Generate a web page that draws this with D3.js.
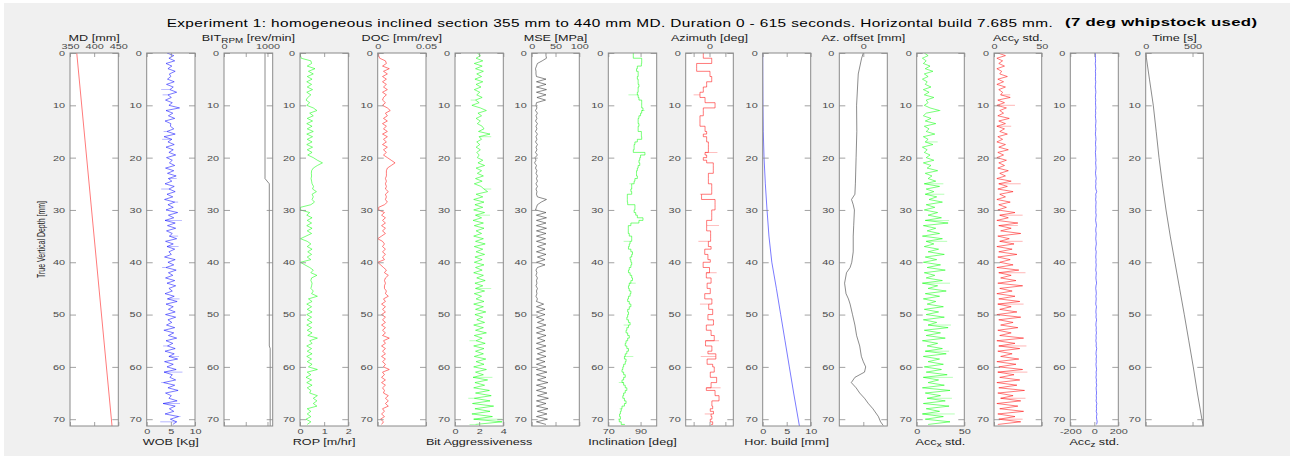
<!DOCTYPE html>
<html>
<head>
<meta charset="utf-8">
<script src="https://cdn.jsdelivr.net/npm/d3@7"></script>
<style>
body { margin: 0; background: #fff; }
svg { display: block; }
text { font-family: "Liberation Sans", Arial, sans-serif; }
</style>
</head>
<body>
<svg id="chart" width="1290" height="456"></svg>
<script>
// depth grid (mm) shared by the sampled logs
const tvd = [0,0.5,1,1.5,2,2.5,3,3.5,4,4.5,5,5.5,6,6.5,7,7.5,8,8.5,9,9.5,
  10,10.5,11,11.5,12,12.5,13,13.5,14,14.5,15,15.5,16,16.5,17,17.5,18,18.5,19,19.5,
  20,20.5,21,21.5,22,22.5,23,23.5,24,24.5,25,25.5,26,26.5,27,27.5,28,28.5,29,29.5,
  30,30.5,31,31.5,32,32.5,33,33.5,34,34.5,35,35.5,36,36.5,37,37.5,38,38.5,39,39.5,
  40,40.5,41,41.5,42,42.5,43,43.5,44,44.5,45,45.5,46,46.5,47,47.5,48,48.5,49,49.5,
  50,50.5,51,51.5,52,52.5,53,53.5,54,54.5,55,55.5,56,56.5,57,57.5,58,58.5,59,59.5,
  60,60.5,61,61.5,62,62.5,63,63.5,64,64.5,65,65.5,66,66.5,67,67.5,68,68.5,69,69.5,
  70,70.5,71];
const yTicks = [0,10,20,30,40,50,60,70];

const mdDepth = [0, 71.3];
const mdVals = [364, 437];

const wob = [4.2,5.6,4.6,5.8,4.0,5.2,4.4,5.9,4.7,5.0,4.3,5.7,4.1,5.5,4.8,6.2,4.4,5.1,3.9,5.3,
  4.6,6.8,4.0,5.4,4.5,5.8,3.8,5.0,4.9,5.6,4.2,5.9,3.6,5.2,4.4,5.7,4.0,5.5,4.6,6.0,
  4.1,5.3,4.7,5.8,3.9,5.6,4.3,6.1,4.5,5.2,3.8,5.7,4.6,5.9,4.2,5.4,3.7,5.8,4.4,5.5,
  4.0,6.4,4.5,5.6,3.8,5.9,4.3,6.0,4.1,5.3,4.7,6.2,3.9,5.5,4.2,5.8,4.6,5.1,3.7,5.9,
  4.4,5.6,4.0,6.1,4.5,5.4,3.9,5.8,4.2,6.0,4.6,5.3,3.8,5.7,4.3,6.3,4.0,5.5,4.5,5.9,
  3.9,6.0,4.4,5.2,4.1,5.8,3.6,5.6,4.5,6.2,4.0,5.4,4.3,5.9,3.8,5.7,4.6,6.4,3.7,5.5,
  4.2,6.1,3.6,5.3,4.8,6.0,3.5,5.8,4.4,6.5,3.9,5.1,4.6,6.3,3.4,5.9,4.7,5.6,3.8,6.6,
  4.9,6.2,5.4];
const wobSpk = [[7,3.0],[8,3.3],[15,3.5],[16.5,3.2],[24,6.2],[26,3.0],[28.5,6.5],[32,7.3],[35,6.5],
  [37,6.6],[41,3.2],[47,6.8],[53,3.5],[56,3.4],[58,6.7],[61,7.4],[63,3.0],[67,6.9],[69.5,7.0],[70.5,2.8]];

const bitDepth = [0, 24, 25, 56, 56.5, 71.3];
const bitRpm = [943, 943, 1042, 1042, 1062, 1062];

const rop = [0.02,0.02,0.05,0.45,0.48,0.30,0.62,0.35,0.55,0.30,0.50,0.28,0.48,0.30,0.52,0.28,0.45,0.32,0.25,0.40,
  0.28,0.55,0.70,0.40,0.55,0.30,0.52,0.28,0.50,0.30,0.55,0.28,0.52,0.30,0.50,0.28,0.52,0.30,0.50,0.32,
  0.55,0.72,0.93,0.72,0.55,0.48,0.47,0.48,0.46,0.48,0.50,0.56,0.52,0.68,0.50,0.55,0.50,0.60,0.45,0.02,
  0.02,0.40,0.28,0.50,0.30,0.48,0.28,0.50,0.30,0.48,0.25,0.02,0.30,0.45,0.30,0.50,0.32,0.48,0.30,0.45,
  0.02,0.20,0.40,0.55,0.45,0.70,0.48,0.45,0.50,0.48,0.45,0.55,0.48,0.72,0.35,0.50,0.28,0.48,0.30,0.50,
  0.28,0.48,0.30,0.50,0.28,0.48,0.30,0.50,0.32,0.72,0.40,0.50,0.28,0.48,0.30,0.50,0.28,0.48,0.30,0.50,
  0.35,0.72,0.30,0.45,0.25,0.48,0.28,0.50,0.30,0.45,0.40,0.72,0.55,0.70,0.55,0.70,0.30,0.45,0.30,0.45,
  0.25,0.45,0.30];

const doc = [0.001,0.001,0.002,0.008,0.009,0.005,0.012,0.006,0.010,0.005,0.009,0.005,0.009,0.006,0.010,0.005,0.009,0.006,0.005,0.008,
  0.005,0.010,0.013,0.008,0.010,0.006,0.010,0.005,0.009,0.006,0.010,0.005,0.010,0.006,0.009,0.005,0.010,0.006,0.009,0.006,
  0.010,0.014,0.018,0.014,0.010,0.009,0.009,0.009,0.008,0.009,0.008,0.009,0.008,0.011,0.008,0.009,0.008,0.010,0.007,0.001,
  0.001,0.007,0.004,0.008,0.005,0.008,0.004,0.008,0.005,0.008,0.004,0.000,0.005,0.007,0.005,0.008,0.005,0.008,0.005,0.007,
  0.000,0.003,0.006,0.009,0.007,0.011,0.008,0.007,0.008,0.007,0.007,0.009,0.008,0.011,0.006,0.008,0.004,0.008,0.005,0.008,
  0.004,0.008,0.005,0.008,0.004,0.008,0.005,0.008,0.005,0.012,0.006,0.008,0.004,0.008,0.005,0.008,0.004,0.008,0.005,0.008,
  0.006,0.012,0.005,0.007,0.004,0.008,0.004,0.008,0.005,0.007,0.006,0.011,0.008,0.011,0.008,0.011,0.005,0.007,0.004,0.007,
  0.003,0.006,0.004];

const bitAgg = [1.85,2.10,1.75,2.30,1.60,2.25,1.70,2.35,1.80,2.20,1.65,2.30,1.75,2.15,1.60,2.05,1.80,2.25,1.70,2.00,
  1.40,2.10,2.60,1.90,2.20,1.75,2.10,1.85,2.25,2.40,1.95,2.90,2.00,2.20,1.80,2.05,1.75,2.10,1.80,2.00,
  1.85,2.30,1.90,2.45,1.75,2.20,1.85,2.35,1.70,2.25,1.60,2.15,2.40,2.70,1.75,2.30,1.55,2.40,1.65,2.30,
  1.55,2.45,1.70,2.20,1.50,2.35,1.60,2.40,1.75,2.20,1.55,2.35,1.70,2.50,1.60,2.30,1.75,2.45,1.65,2.25,
  1.60,2.40,1.70,2.25,1.55,2.35,1.80,2.50,1.65,2.30,1.70,2.45,1.60,2.20,1.75,2.40,1.55,2.35,1.70,2.55,
  1.65,2.30,1.80,2.45,1.55,2.35,1.70,2.60,1.60,2.25,1.75,2.50,1.55,2.40,1.70,2.35,1.60,2.55,1.75,2.40,
  1.55,2.60,1.70,2.35,1.50,2.70,1.65,2.45,1.55,2.85,1.70,3.00,1.60,2.90,1.45,3.20,1.65,2.90,1.40,3.10,
  1.55,3.90,1.70];
const bitAggSpk = [[9,1.3],[16,3.0],[26,3.0],[31,2.9],[45,3.0],[55,1.2],[62,3.1],[66,1.1],[70,3.9],[71,1.2]];

const mse = [30,30,31,22,12,10,8,9,9,10,30,10,30,10,31,10,30,11,29,10,
  9,11,8,12,9,11,8,12,9,11,8,12,9,11,8,12,9,11,8,12,
  7,9,6,10,8,11,9,12,10,12,9,12,9,11,10,12,31,20,12,10,
  8,30,10,31,10,30,10,31,10,30,10,29,10,30,12,28,10,30,12,28,
  10,28,12,9,11,9,12,10,11,9,12,10,11,9,12,10,25,10,28,10,
  28,10,26,12,30,10,28,10,30,12,28,10,30,10,29,12,30,10,28,10,
  30,10,32,10,30,12,34,10,30,10,32,12,35,10,30,10,34,12,32,10,
  33,10,30];

const incl = [85.5,85.5,90.7,90.7,90.5,88.0,87.5,88.5,88.5,88.0,88.5,88.5,89.0,88.5,88.5,88.0,88.5,89.0,90.7,90.7,
  90.7,91.5,90.7,90.0,89.0,88.5,88.5,89.0,88.5,88.5,90.5,90.5,90.7,88.0,86.5,86.0,86.0,85.5,92.7,90.0,
  89.5,89.0,89.5,88.5,88.0,87.5,87.5,88.0,86.5,86.0,84.5,84.5,84.0,84.5,81.8,81.8,81.8,82.0,86.5,86.5,
  86.0,87.0,88.0,91.5,89.0,84.0,82.4,82.4,82.4,83.0,84.5,84.5,83.5,83.0,82.5,84.0,85.0,84.5,83.5,84.0,
  84.5,84.0,83.0,82.5,83.5,84.5,85.0,84.0,83.0,82.5,83.0,84.0,83.5,82.5,82.0,83.0,84.0,83.0,82.0,82.5,
  82.0,81.5,82.5,83.5,82.5,81.5,81.0,82.0,83.0,82.0,81.0,80.5,81.5,82.5,81.5,80.5,80.0,81.0,80.5,79.5,
  79.0,78.5,79.5,80.5,79.5,78.5,79.5,80.5,81.5,80.5,79.5,79.0,80.0,81.0,80.0,78.5,78.0,77.5,77.0,77.5,
  76.8,78.0,80.3];
const inclSpk = [[8,82.5],[11,92.5],[25,83],[36,79.5],[44,87],[52,79.5],[58,85.5],[63,76.5],[68,77],[70,76]];

const azim = [-0.39,-0.39,0.14,0.14,-0.81,-0.81,-0.81,0.03,0.03,0.14,0.14,-0.18,-0.18,-0.39,-0.39,-0.60,-0.60,-0.28,-0.28,0.35,
  0.35,-0.39,-0.39,-0.39,-0.60,-0.60,-0.60,-0.60,-0.28,-0.28,-0.18,-0.39,-0.18,-0.18,-0.07,-0.07,-0.07,-0.07,-0.28,-0.18,
  -0.39,-0.18,0.24,0.24,0.24,0.24,-0.07,-0.07,-0.07,-0.07,0.14,0.14,0.14,0.14,-0.50,-0.50,0.35,0.35,0.35,0.35,
  0.14,0.14,0.14,0.14,-0.18,-0.18,-0.18,-0.18,0.07,0.07,0.07,0.07,-0.07,-0.07,0.10,-0.30,-0.30,-0.10,-0.10,0.05,
  -0.40,-0.40,0.00,0.00,-0.20,-0.20,0.10,0.10,-0.15,-0.15,0.05,0.05,-0.30,-0.30,0.15,0.15,-0.05,-0.05,0.20,0.20,
  -0.10,-0.10,0.25,0.25,-0.20,-0.20,0.10,0.10,0.30,0.30,-0.25,-0.25,0.15,0.15,-0.10,0.40,0.40,-0.15,-0.15,0.20,
  0.30,0.30,0.05,0.05,0.45,0.45,0.10,0.10,-0.20,0.35,0.35,0.60,0.60,0.15,0.15,0.20,0.05,0.25,0.10,0.15,
  0.05,0.20,0.10];
const azimSpk = [[8,-1.0],[19,0.5],[27,-0.6],[33,0.6],[36,-0.7],[42,0.45],[48,-0.6],[55,0.6],[58,-0.55],[64,0.7],[69,-0.3]];

const hbDepth = [0,5,10,15,20,25,30,35,40,45,50,55,60,65,71.3];
const horBuild = [0,0.02,0.05,0.12,0.28,0.55,0.90,1.30,1.90,2.85,3.75,4.65,5.55,6.45,7.65];

const azDepth = [0,1,4,10,15,20,25,27,28,29,30,33,35,38,40,41,42,44,46,47,48,50,52,54,56,58,59,60,61,62,63,64,65,66,67,68,69.5,70.5,71.2];
const azOffset = [0,-0.07,-0.21,-0.28,-0.27,-0.30,-0.33,-0.35,-0.49,-0.42,-0.37,-0.40,-0.42,-0.42,-0.48,-0.55,-0.70,-0.78,-0.72,-0.62,-0.55,-0.45,-0.35,-0.28,-0.15,-0.08,0.0,0.10,0.05,-0.35,-0.50,-0.30,-0.15,0.05,0.21,0.40,0.63,0.72,0.83];

const accx = [8,12,6,10,7,14,9,17,8,12,6,11,9,15,7,13,8,18,10,12,
  8,14,24,10,7,15,9,20,8,13,10,19,7,12,9,17,6,11,8,14,
  10,18,7,15,11,22,9,16,12,20,8,24,10,18,9,21,13,27,10,19,
  8,22,12,26,9,33,7,20,11,24,6,27,10,18,8,23,12,29,9,21,
  7,25,11,30,8,19,10,27,6,22,12,31,9,24,7,20,11,28,8,23,
  10,29,7,21,12,33,8,25,10,30,6,22,11,27,9,31,7,24,12,28,
  8,26,10,32,7,23,12,29,6,35,9,25,11,30,7,34,10,24,6,28,
  9,35,12];
const accxSpk = [[11,25],[17,22],[25,28],[27,29],[32,34],[36,32],[44,35],[52,36],[57,34],[62,38],[66,37],[69,40]];

const accy = [4,12,3,9,5,11,3,8,6,14,4,10,3,12,5,9,7,17,4,11,
  3,13,6,10,4,16,5,12,3,11,6,14,4,9,3,12,5,15,4,10,
  3,13,5,11,4,15,6,12,3,18,5,14,4,20,6,12,3,17,5,13,
  4,22,6,15,3,25,5,18,7,28,4,16,6,21,3,19,5,24,4,17,
  6,20,3,26,5,18,7,23,4,30,6,19,3,22,5,27,4,18,6,24,
  3,28,5,20,7,25,4,18,6,31,3,22,5,27,4,19,7,26,3,23,
  5,30,4,21,6,27,3,24,5,32,4,20,7,28,3,25,6,31,4,22,
  5,28,4];
const accySpk = [[8,17],[10,22],[14,18],[25,28],[31,30],[33,25],[36,30],[42,33],[48,31],[56,34],[61,35],[66,33],[70,30]];

const accz = [8,10,9,11,8,10,12,9,11,10,9,12,10,8,11,13,10,9,12,10,
  11,13,10,12,9,11,14,12,10,13,11,9,12,14,11,10,13,12,9,11,
  12,14,11,13,15,12,10,13,16,12,14,11,13,20,12,14,11,15,13,12,
  14,12,16,13,11,15,18,13,12,16,14,12,15,17,13,11,16,14,12,15,
  13,16,14,12,17,15,13,16,19,14,12,15,17,13,16,14,12,18,15,13,
  16,14,19,15,13,17,15,18,14,16,13,17,15,20,16,14,18,15,17,14,
  16,19,15,17,14,18,16,20,15,17,19,16,18,15,21,17,19,16,22,18,
  20,24,19];

const timeDepth = [0,5,10,15,20,25,30,35,40,45,50,55,60,65,70,71.3];
const timeS = [0,40,81,112,142,178,217,262,312,362,412,460,508,552,600,613];

// ---- layout
const svg = d3.select("#chart");
const SX = 1.45;           // the figure text is stretched horizontally
const yTop = 53, yBot = 426;
const y = d3.scaleLinear().domain([0, 71.3]).range([yTop, yBot]);
const frameCol = "#8a8a8a", tickTxt = "#4a4a4a", labTxt = "#222";

svg.append("rect").attr("x", 4).attr("y", 3).attr("width", 1286).attr("height", 453).attr("fill", "#f0f0f0");

function stretchText(x, yy, parts, size, anchor, fill, weight) {
  const t = svg.append("text")
    .attr("transform", `translate(${x},${yy}) scale(${SX},1)`)
    .attr("text-anchor", anchor)
    .style("fill", fill)
    .style("font-size", size + "px")
    .style("font-weight", weight || "normal");
  let low = false;
  parts.forEach(p => {
    const s = t.append("tspan").text(p.t);
    if (p.sub) { s.attr("dy", 2.6).style("font-size", (size * 0.78) + "px"); low = true; }
    else if (low) { s.attr("dy", -2.6); low = false; }
  });
  return t;
}

const panels = [
  {left: 70, w: 48.3, dom: [350, 450], ticks: [350, 400, 450], fmt: ["350", "400", "450"], pos: "top",
   title: [{t: "MD [mm]"}], color: "#ff0000", depth: mdDepth, vals: mdVals},
  {left: 146.7, w: 48.3, dom: [0, 10], ticks: [0, 5, 10], fmt: ["0", "5", "10"], pos: "bottom",
   title: [{t: "WOB [Kg]"}], color: "#0000ff", depth: tvd, vals: wob, spk: wobSpk},
  {left: 224, w: 48.7, dom: [0, 1120], ticks: [0, 500, 1000], fmt: ["0", "", "1000"], pos: "top",
   title: [{t: "BIT"}, {t: "RPM", sub: true}, {t: " [rev/min]"}], color: "#222", depth: bitDepth, vals: bitRpm},
  {left: 300, w: 48.3, dom: [0, 2], ticks: [0, 1, 2], fmt: ["0", "1", "2"], pos: "bottom",
   title: [{t: "ROP [m/hr]"}], color: "#00ff00", depth: tvd, vals: rop},
  {left: 377.7, w: 48.3, dom: [0, 0.05], ticks: [0, 0.05], fmt: ["0", "0.05"], pos: "top",
   title: [{t: "DOC [mm/rev]"}], color: "#ff0000", depth: tvd, vals: doc},
  {left: 455, w: 48.3, dom: [0, 4], ticks: [0, 2, 4], fmt: ["0", "2", "4"], pos: "bottom",
   title: [{t: "Bit Aggressiveness"}], color: "#00ff00", depth: tvd, vals: bitAgg, spk: bitAggSpk},
  {left: 531.7, w: 47.6, dom: [0, 100], ticks: [0, 50, 100], fmt: ["0", "50", "100"], pos: "top",
   title: [{t: "MSE [MPa]"}], color: "#222", depth: tvd, vals: mse},
  {left: 608.3, w: 48.4, dom: [70, 100], ticks: [70, 90], fmt: ["70", "90"], pos: "bottom",
   title: [{t: "Inclination [deg]"}], color: "#00ff00", depth: tvd, vals: incl, spk: inclSpk, step: true},
  {left: 685.7, w: 47.6, dom: [-1.5, 1.5], ticks: [-1, 0, 1], fmt: ["", "0", ""], pos: "top",
   title: [{t: "Azimuth [deg]"}], color: "#ff0000", depth: tvd, vals: azim, spk: azimSpk, step: true},
  {left: 762.7, w: 48, dom: [0, 10], ticks: [0, 5, 10], fmt: ["0", "5", "10"], pos: "bottom",
   title: [{t: "Hor. build [mm]"}], color: "#0000ff", depth: hbDepth, vals: horBuild},
  {left: 839.3, w: 48, dom: [-1, 1], ticks: [0], fmt: ["0"], pos: "top",
   title: [{t: "Az. offset [mm]"}], color: "#222", depth: azDepth, vals: azOffset},
  {left: 916.7, w: 47.6, dom: [0, 50], ticks: [0, 50], fmt: ["0", "50"], pos: "bottom",
   title: [{t: "Acc"}, {t: "x", sub: true}, {t: " std."}], color: "#00ff00", depth: tvd, vals: accx, spk: accxSpk},
  {left: 994, w: 47.7, dom: [0, 50], ticks: [0, 50], fmt: ["0", "50"], pos: "top",
   title: [{t: "Acc"}, {t: "y", sub: true}, {t: " std."}], color: "#ff0000", depth: tvd, vals: accy, spk: accySpk},
  {left: 1070.3, w: 48, dom: [-200, 200], ticks: [-200, 0, 200], fmt: ["-200", "0", "200"], pos: "bottom",
   title: [{t: "Acc"}, {t: "z", sub: true}, {t: " std."}], color: "#0000ff", depth: tvd, vals: accz},
  {left: 1145.7, w: 57.6, dom: [0, 615], ticks: [0, 500], fmt: ["0", "500"], pos: "top",
   title: [{t: "Time [s]"}], color: "#222", depth: timeDepth, vals: timeS}
];

function styleAxis(g) {
  g.attr("color", tickTxt);
  g.select(".domain").remove();
  g.selectAll(".tick line").attr("stroke", frameCol).attr("stroke-width", 0.8);
  g.selectAll(".tick text").style("fill", tickTxt).style("font-size", "7.5px")
    .attr("font-family", "Liberation Sans, Arial, sans-serif");
}

panels.forEach((p, k) => {
  const x = d3.scaleLinear().domain(p.dom).range([p.left, p.left + p.w]);
  const right = p.left + p.w;

  svg.append("rect").attr("x", p.left).attr("y", yTop).attr("width", p.w).attr("height", yBot - yTop)
    .attr("fill", "#fff");

  svg.append("clipPath").attr("id", "clip" + k).append("rect")
    .attr("x", p.left).attr("y", yTop).attr("width", p.w).attr("height", yBot - yTop);

  const pts = d3.zip(p.depth, p.vals);
  const line = d3.line()
    .curve(p.step ? d3.curveStepBefore : d3.curveLinear)
    .x(d => x(d[1])).y(d => y(d[0]));
  const g = svg.append("g").attr("clip-path", `url(#clip${k})`);

  if (p.spk) {
    g.selectAll("line.spk").data(p.spk).enter().append("line")
      .attr("x1", d => x(p.vals[Math.round(d[0] * 2)]))
      .attr("x2", d => x(d[1]))
      .attr("y1", d => y(d[0])).attr("y2", d => y(d[0]))
      .attr("stroke", p.color).attr("stroke-width", 0.7).attr("opacity", 0.4);
  }
  g.append("path").datum(pts).attr("d", line)
    .attr("fill", "none").attr("stroke", p.color).attr("stroke-width", 0.7).attr("stroke-opacity", 0.75);

  // ticks inside the box, both sides
  const ax = svg.append("g").attr("transform", `translate(${p.left},0)`)
    .call(d3.axisLeft(y).tickValues(yTicks).tickSizeInner(-6).tickSizeOuter(0).tickPadding(5));
  styleAxis(ax);
  ax.selectAll(".tick text").attr("x", 0).attr("transform", `translate(-5,0) scale(${SX},1)`);

  svg.append("g").attr("transform", `translate(${right},0)`)
    .call(d3.axisRight(y).tickValues(yTicks).tickSizeInner(-6).tickSizeOuter(0).tickFormat(""))
    .call(styleAxis);

  const topAx = svg.append("g").attr("transform", `translate(0,${yTop})`)
    .call(d3.axisTop(x).tickValues(p.ticks).tickSizeInner(-4).tickSizeOuter(0).tickPadding(3.7)
      .tickFormat((d, i) => p.pos === "top" ? p.fmt[i] : ""));
  styleAxis(topAx);
  topAx.selectAll(".tick text").attr("y", 0).attr("transform", `translate(0,-3.7) scale(${SX},1)`);

  const botAx = svg.append("g").attr("transform", `translate(0,${yBot})`)
    .call(d3.axisBottom(x).tickValues(p.ticks).tickSizeInner(-4).tickSizeOuter(0).tickPadding(3)
      .tickFormat((d, i) => p.pos === "bottom" ? p.fmt[i] : ""));
  styleAxis(botAx);
  botAx.selectAll(".tick text").attr("y", 0).attr("dy", null).attr("transform", `translate(0,8.3) scale(${SX},1)`);

  svg.append("rect").attr("x", p.left).attr("y", yTop).attr("width", p.w).attr("height", yBot - yTop)
    .attr("fill", "none").attr("stroke", frameCol).attr("stroke-width", 1);

  const cx = p.left + p.w / 2;
  if (p.pos === "top") stretchText(cx, 40.7, p.title, 8.7, "middle", labTxt);
  else stretchText(cx, 444.5, p.title, 8.7, "middle", labTxt);
});

// y label
svg.append("text")
  .attr("transform", `translate(44.5,239.5) scale(${SX},1) rotate(-90)`)
  .attr("text-anchor", "middle").style("fill", labTxt).style("font-size", "7px")
  .text("True Vertical Depth [mm]");

// figure title, widths
stretchText(166.7, 26.7, [{t: "Experiment 1: homogeneous inclined section 355 mm to 440 mm MD. Duration 0 - 615 seconds. Horizontal build 7.685 mm."}],
  10.6, "start", "#000")
  .attr("textLength", 886 / SX).attr("lengthAdjust", "spacing");
stretchText(1065, 26.4, [{t: "(7 deg whipstock used)"}], 11.6, "start", "#000", "bold")
  .attr("textLength", 192 / SX).attr("lengthAdjust", "spacing");
</script>
</body>
</html>
